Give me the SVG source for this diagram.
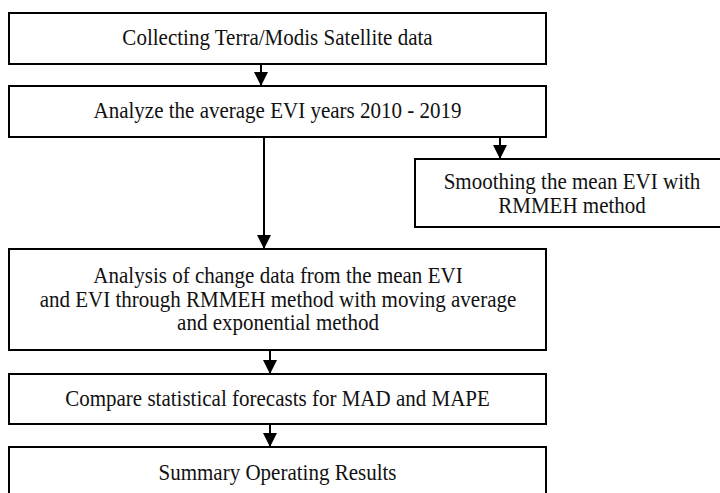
<svg xmlns="http://www.w3.org/2000/svg" width="720" height="493" viewBox="0 0 720 493">
  <style>
    .box { fill: #ffffff; stroke: #000000; stroke-width: 2; }
    .lbl { font-family: "Liberation Serif", "Times New Roman", serif; font-size: 22.6px; fill: #111111; text-anchor: middle; }
    .conn { stroke: #000000; stroke-width: 2; fill: none; marker-end: url(#arrow); }
  </style>
  <defs>
    <marker id="arrow" viewBox="0 0 14 14" refX="14" refY="7" markerWidth="14" markerHeight="14" markerUnits="userSpaceOnUse" orient="auto">
      <path d="M0,0 L14,7 L0,14 Z" fill="#000000"/>
    </marker>
  </defs>
  <rect width="720" height="493" fill="#ffffff"/>

  <g id="n1">
    <rect class="box" x="9" y="13" width="537" height="51"/>
    <text class="lbl" transform="translate(277.5,45) scale(0.93,1)">Collecting Terra/Modis Satellite data</text>
  </g>
  <g id="n2">
    <rect class="box" x="9" y="86" width="537" height="51"/>
    <text class="lbl" transform="translate(277.5,118) scale(0.93,1)">Analyze the average EVI years 2010 - 2019</text>
  </g>
  <g id="n3">
    <rect class="box" x="415" y="159" width="315" height="68"/>
    <text class="lbl" transform="translate(572,189) scale(0.93,1)">Smoothing the mean EVI with</text>
    <text class="lbl" transform="translate(572,213) scale(0.93,1)">RMMEH method</text>
  </g>
  <g id="n4">
    <rect class="box" x="9" y="249" width="537" height="101"/>
    <text class="lbl" transform="translate(278,283) scale(0.93,1)">Analysis of change data from the mean EVI</text>
    <text class="lbl" transform="translate(278,306.5) scale(0.93,1)">and EVI through RMMEH method with moving average</text>
    <text class="lbl" transform="translate(278,330) scale(0.93,1)">and exponential method</text>
  </g>
  <g id="n5">
    <rect class="box" x="9" y="374" width="537" height="50"/>
    <text class="lbl" transform="translate(277.5,406) scale(0.93,1)">Compare statistical forecasts for MAD and MAPE</text>
  </g>
  <g id="n6">
    <rect class="box" x="9" y="447" width="537" height="52"/>
    <text class="lbl" transform="translate(277.5,480) scale(0.93,1)">Summary Operating Results</text>
  </g>

  <g id="connectors">
    <line class="conn" x1="261" y1="64" x2="261" y2="86"/>
    <line class="conn" x1="500" y1="137" x2="500" y2="159"/>
    <line class="conn" x1="264" y1="137" x2="264" y2="249"/>
    <line class="conn" x1="270" y1="350" x2="270" y2="374"/>
    <line class="conn" x1="270" y1="424" x2="270" y2="447"/>
  </g>
</svg>
